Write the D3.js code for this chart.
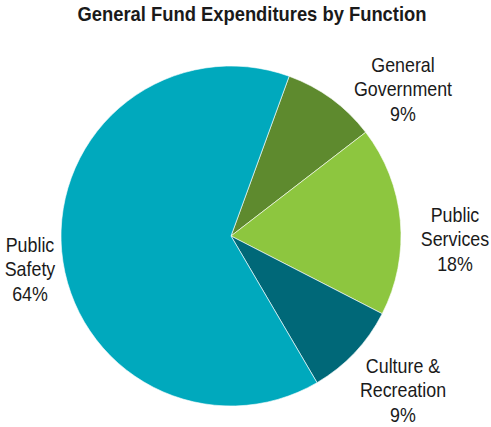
<!DOCTYPE html>
<html>
<head>
<meta charset="utf-8">
<script src="https://cdn.jsdelivr.net/npm/d3@7"></script>
<style>
  html, body { margin: 0; padding: 0; background: #fff; }
  svg { display: block; }
  text { font-family: "Liberation Sans", Arial, sans-serif; fill: #1a1a1a; }
</style>
</head>
<body>
<svg id="chart" width="491" height="427"></svg>
<script>
// Expenditure shares by function, in drawing order (clockwise)
const categories = ["General Government", "Public Services", "Culture & Recreation", "Public Safety"];
const labelLines = [["General", "Government"], ["Public", "Services"], ["Culture &", "Recreation"], ["Public", "Safety"]];
const shares = [9, 18, 9, 64];
const colors = ["#5E8A2E", "#8DC63F", "#006878", "#00A9BD"];
const title = "General Fund Expenditures by Function";

const cx = 231, cy = 236, radius = 170;
const startDeg = 20;
const narrow = 0.85; // horizontal squeeze to get a condensed face

const svg = d3.select("#chart");

svg.append("text")
  .attr("transform", `translate(252,21) scale(0.875,1)`)
  .attr("text-anchor", "middle")
  .style("font-weight", "bold")
  .style("font-size", "21px")
  .text(title);

const pie = d3.pie()
  .value(d => d)
  .sort(null)
  .startAngle(startDeg * Math.PI / 180)
  .endAngle((startDeg + 360) * Math.PI / 180);

const arcs = pie(shares);
const arc = d3.arc().innerRadius(0).outerRadius(radius);

const g = svg.append("g").attr("transform", `translate(${cx},${cy})`);

g.selectAll("path")
  .data(arcs)
  .join("path")
  .attr("d", arc)
  .attr("fill", (d, i) => colors[i])
  .attr("stroke", "#ffffff")
  .attr("stroke-width", 0.6);

// Label anchor points (text centre x, first baseline y), placed outside each slice
const labelPos = [[403, 72], [455, 222], [403, 373], [30, 252]];
const lineH = 24.5;

categories.forEach((c, i) => {
  const t = svg.append("text")
    .attr("transform", `translate(${labelPos[i][0]},${labelPos[i][1]}) scale(${narrow},1)`)
    .attr("text-anchor", "middle")
    .style("font-size", "21px")
    .attr("aria-label", c);
  const lines = labelLines[i].concat([shares[i] + "%"]);
  lines.forEach((ln, k) => {
    t.append("tspan")
      .attr("x", 0)
      .attr("y", k * lineH)
      .text(ln);
  });
});
</script>
</body>
</html>
